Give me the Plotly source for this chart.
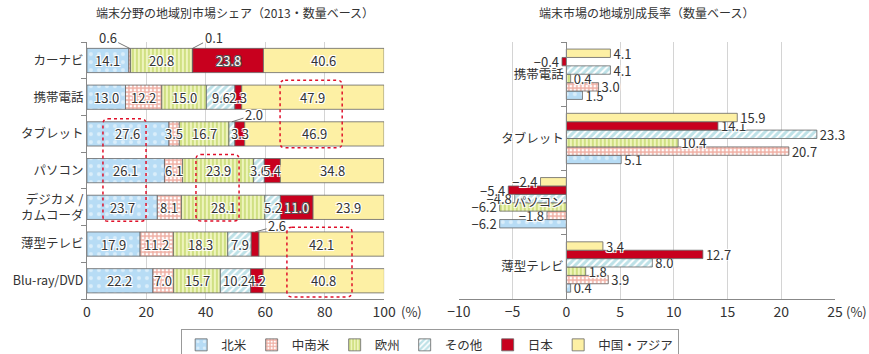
import plotly.graph_objects as go

# ---------------- data ----------------
share_categories = ["カーナビ", "携帯電話", "タブレット", "パソコン",
                    "デジカメ /<br>カムコーダ", "薄型テレビ", "Blu-ray/DVD"]
regions = ["北米", "中南米", "欧州", "その他", "日本", "中国・アジア"]
share_na = [14.1, 13.0, 27.6, 26.1, 23.7, 17.9, 22.2]
share_latam = [0.6, 12.2, 3.5, 6.1, 8.1, 11.2, 7.0]
share_eu = [20.8, 15.0, 16.7, 23.9, 28.1, 18.3, 15.7]
share_other = [0.1, 9.6, 2.0, 3.6, 5.2, 7.9, 10.2]
share_jp = [23.8, 2.3, 3.3, 5.4, 11.0, 2.6, 4.2]
share_asia = [40.6, 47.9, 46.9, 34.8, 23.9, 42.1, 40.8]

growth_categories = ["携帯電話", "タブレット", "パソコン", "薄型テレビ"]
growth_na = [1.5, 5.1, -6.2, 0.4]
growth_latam = [3.0, 20.7, -1.8, 3.9]
growth_eu = [0.4, 10.4, -6.2, 1.8]
growth_other = [4.1, 23.3, -4.8, 8.0]
growth_jp = [-0.4, 14.1, -5.4, 12.7]
growth_asia = [4.1, 15.9, -2.4, 3.4]

share_x_ticks = [0, 20, 40, 60, 80, 100]
growth_x_ticks = [-10, -5, 0, 5, 10, 15, 20, 25]

# ---------------- styles ----------------
FONT = "Noto Sans CJK JP"
TXT = "#333333"
HALO = "-1px -1px 0 #fff, 1px -1px 0 #fff, -1px 1px 0 #fff, 1px 1px 0 #fff, 0 0 2px #fff"
DARKHALO = "-1px -1px 0 #555, 1px -1px 0 #555, -1px 1px 0 #555, 1px 1px 0 #555"
styles = [
    dict(color="#b7dcf5", pattern=dict(shape=".", bgcolor="#b7dcf5", fgcolor="#ffffff", size=8, solidity=0.2)),
    dict(color="#ffffff", pattern=dict(shape="+", bgcolor="#ffffff", fgcolor="#e05a44", size=4, solidity=0.6)),
    dict(color="#e6efaa", pattern=dict(shape="|", bgcolor="#eef4bc", fgcolor="#b2cb4a", size=4, solidity=0.5)),
    dict(color="#ffffff", pattern=dict(shape="/", bgcolor="#ffffff", fgcolor="#7cc4cf", size=5, solidity=0.6)),
    dict(color="#c8001e"),
    dict(color="#fdf0a4"),
]
LINE = dict(color="#666666", width=0.8)

share_series = [share_na, share_latam, share_eu, share_other, share_jp, share_asia]
growth_series = [growth_na, growth_latam, growth_eu, growth_other, growth_jp, growth_asia]

BARW_L = 0.66        # bar thickness on the share chart (category units)
BARGAP_R = 0.216     # gap between groups on the growth chart

fig = go.Figure()

# left: stacked share bars (stacked via base so the right chart can be grouped)
bases = [0.0] * len(share_categories)
for name, vals, st in zip(regions, share_series, styles):
    fig.add_trace(go.Bar(
        y=share_categories, x=vals, base=list(bases), name=name, orientation="h",
        marker=dict(line=LINE, **st), xaxis="x", yaxis="y",
        offsetgroup="share", width=BARW_L,
        hoverinfo="x+name", legendgroup=name,
    ))
    bases = [b + v for b, v in zip(bases, vals)]

# right: grouped growth bars
def fmt(v):
    return f"{v:.1f}".replace("-", "−")

for name, vals, st in zip(regions, growth_series, styles):
    fig.add_trace(go.Bar(
        y=growth_categories, x=vals, name=name, orientation="h",
        marker=dict(line=LINE, **st), xaxis="x2", yaxis="y2",
        text=[fmt(v) for v in vals], textposition="outside", textangle=0,
        textfont=dict(family=FONT, size=13, color=TXT, shadow=HALO),
        constraintext="none", cliponaxis=False, showlegend=False,
        legendgroup=name,
    ))

# ---------------- annotations for share labels ----------------
annotations = []
callouts = {
    ("カーナビ", "中南米"): (-22, -11),
    ("カーナビ", "その他"): (21, -11),
    ("タブレット", "その他"): (22, -7),
    ("薄型テレビ", "日本"): (22, -6),
}
cat_order = list(reversed(share_categories))
for ci, cat in enumerate(share_categories):
    cum = 0.0
    idx = cat_order.index(cat)
    for ri, reg in enumerate(regions):
        v = share_series[ri][ci]
        mid = cum + v / 2
        cum += v
        if (cat, reg) in callouts:
            ax, ay = callouts[(cat, reg)]
            annotations.append(dict(
                x=mid, y=idx + BARW_L / 2, xref="x", yref="y",
                text=f"{v:.1f}", showarrow=True, arrowhead=0, arrowwidth=0.8,
                arrowcolor="#555", ax=ax, ay=ay, standoff=0,
                font=dict(family=FONT, size=13, color=TXT, shadow=HALO),
            ))
        else:
            white = (reg == "日本" and v >= 10)
            annotations.append(dict(
                x=mid, y=idx, xref="x", yref="y", text=f"{v:.1f}", showarrow=False,
                font=dict(family=FONT, size=13, color="#ffffff" if white else TXT,
                          shadow=DARKHALO if white else HALO),
            ))

# titles and unit labels
annotations += [
    dict(x=0.271, y=0.966, xref="paper", yref="paper", xanchor="center", yanchor="middle",
         text="端末分野の地域別市場シェア（2013・数量ベース）",
         showarrow=False, font=dict(family=FONT, size=12, color=TXT)),
    dict(x=0.744, y=0.966, xref="paper", yref="paper", xanchor="center", yanchor="middle",
         text="端末市場の地域別成長率（数量ベース）",
         showarrow=False, font=dict(family=FONT, size=12, color=TXT)),
    dict(x=0.459, y=0.119, xref="paper", yref="paper", text="(%)", xanchor="left", yanchor="middle",
         showarrow=False, font=dict(family=FONT, size=13, color=TXT)),
    dict(x=0.971, y=0.119, xref="paper", yref="paper", text="(%)", xanchor="left", yanchor="middle",
         showarrow=False, font=dict(family=FONT, size=13, color=TXT)),
]

# dashed highlight boxes (rounded)
def rounded(x0, x1, y0, y1, rx=1.7, ry=0.14):
    return (f"M {x0+rx},{y1} L {x1-rx},{y1} Q {x1},{y1} {x1},{y1-ry} "
            f"L {x1},{y0+ry} Q {x1},{y0} {x1-rx},{y0} L {x0+rx},{y0} "
            f"Q {x0},{y0} {x0},{y0+ry} L {x0},{y1-ry} Q {x0},{y1} {x0+rx},{y1} Z")

boxes = [(65.0, 85.9, 3.62, 5.46), (5.4, 19.9, 1.62, 4.41),
         (36.7, 51.2, 1.63, 3.44), (67.3, 89.2, -0.44, 1.46)]
shapes = [dict(type="path", xref="x", yref="y", path=rounded(*b),
               line=dict(color="#e0102a", width=1.5, dash="dot"), layer="above")
          for b in boxes]

GRID = "#d4d4d4"
AX = "#888888"
dom_r = [0.528, 0.961]
zero_pos = dom_r[0] + (0 - growth_x_ticks[0]) / (growth_x_ticks[-1] - growth_x_ticks[0]) * (dom_r[1] - dom_r[0])

fig.update_layout(
    width=869, height=354,
    margin=dict(l=0, r=0, t=0, b=0, autoexpand=False),
    paper_bgcolor="white", plot_bgcolor="white",
    barmode="group", bargap=BARGAP_R, bargroupgap=0,
    font=dict(family=FONT, size=12, color=TXT),
    xaxis=dict(domain=[0.1, 0.442], range=[0, 100], tickvals=share_x_ticks,
               showgrid=True, gridcolor=GRID, gridwidth=1.2, zeroline=False,
               showline=True, linecolor=AX, linewidth=1, anchor="y", automargin=False,
               tickfont=dict(size=14, color=TXT), ticks=""),
    yaxis=dict(domain=[0.155, 0.881], categoryorder="array", categoryarray=cat_order,
               range=[-0.5, len(share_categories) - 0.5], automargin=False,
               showline=True, linecolor=AX, linewidth=1, ticks="outside", tickson="boundaries",
               ticklen=5, tickcolor=AX, tickfont=dict(size=12.5, color=TXT), anchor="x",
               showgrid=False),
    xaxis2=dict(domain=dom_r, range=[growth_x_ticks[0], growth_x_ticks[-1]], tickvals=growth_x_ticks,
                showgrid=True, gridcolor=GRID, gridwidth=1.2, zeroline=False,
                showline=True, linecolor=AX, linewidth=1, anchor="y2", automargin=False,
                tickfont=dict(size=14, color=TXT), ticks=""),
    yaxis2=dict(domain=[0.155, 0.881], categoryorder="array",
                categoryarray=list(reversed(growth_categories)),
                range=[-0.5, len(growth_categories) - 0.5], automargin=False,
                anchor="free", position=zero_pos, showline=True, linecolor=AX, linewidth=1,
                ticks="outside", tickson="boundaries", ticklen=5, tickcolor=AX,
                tickfont=dict(size=12.5, color=TXT, shadow=HALO), showgrid=False),
    annotations=annotations,
    shapes=shapes,
    legend=dict(orientation="h", x=0.495, xanchor="center", y=0.07, yanchor="top",
                bordercolor="#999", borderwidth=1, font=dict(size=12.5, color=TXT),
                itemwidth=30, tracegroupgap=0),
)

fig.write_html("out.html")
